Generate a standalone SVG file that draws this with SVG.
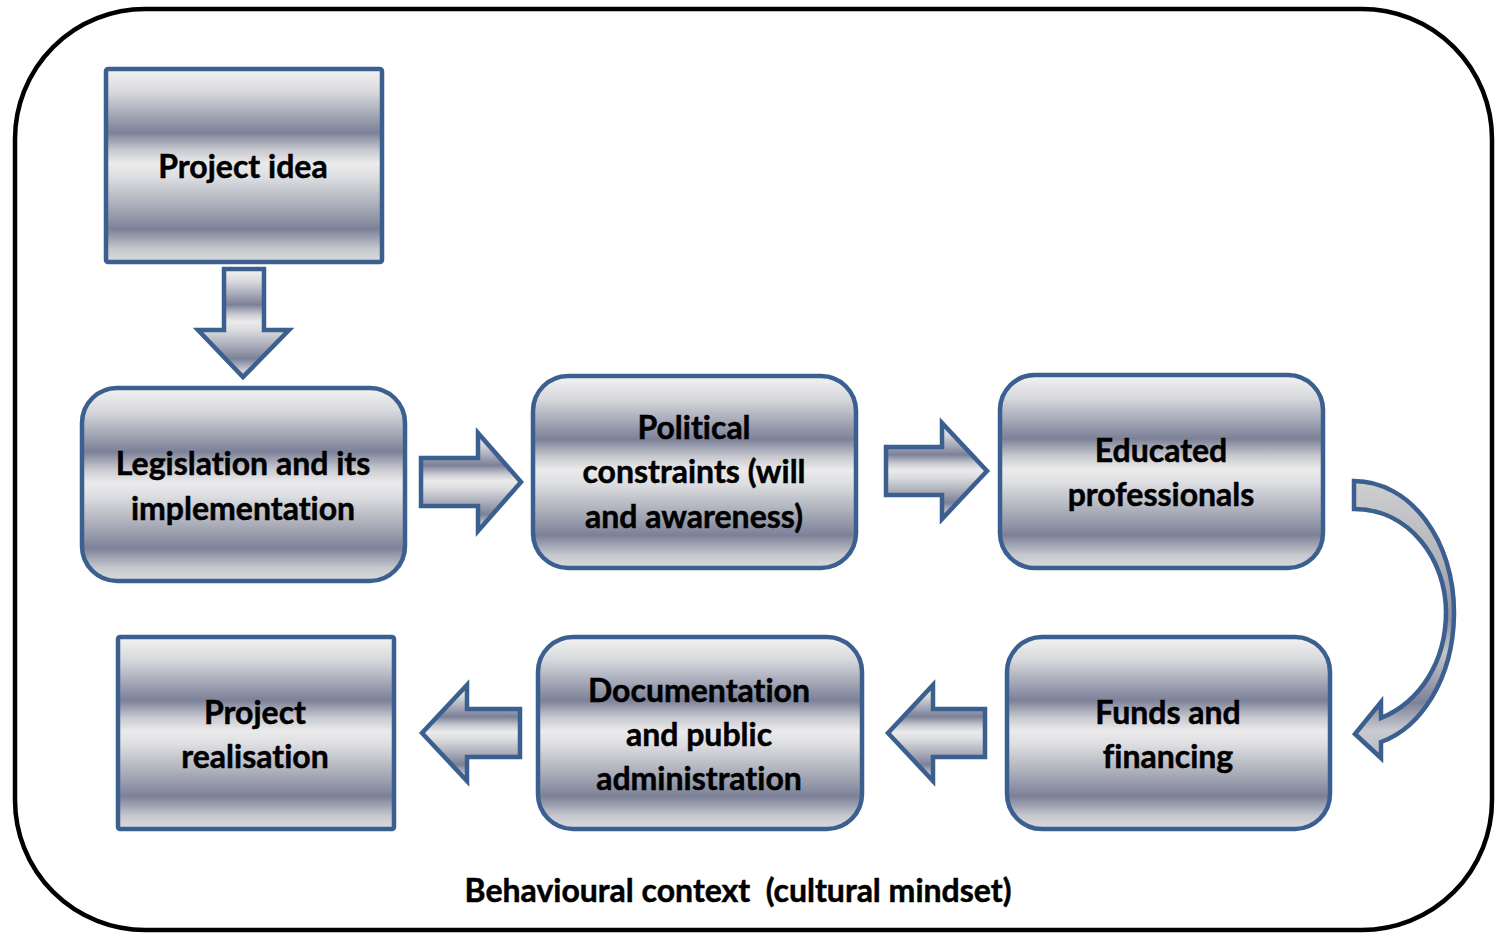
<svg xmlns="http://www.w3.org/2000/svg" width="1495" height="935" viewBox="0 0 1495 935">
  <style>
    .box { fill: url(#metal); stroke: #3b5f8e; stroke-width: 4.5; }
    .arrow { fill: url(#metal); stroke: #3b5f8e; stroke-width: 4.5; stroke-linejoin: miter; }
    .curved { fill: url(#metalCurve); stroke: #3b5f8e; stroke-width: 4.5; stroke-linejoin: miter; }
    .label { font-family: Lato, "Liberation Sans", sans-serif; font-weight: 700; font-size: 32px; fill: #000; stroke: #000; stroke-width: 0.5; text-anchor: middle; font-variant-ligatures: none; }
    .caption { font-family: Lato, "Liberation Sans", sans-serif; font-weight: 700; font-size: 32px; fill: #000; stroke: #000; stroke-width: 0.5; text-anchor: middle; white-space: pre; font-variant-ligatures: none; }
  </style>
  <defs>
    <!-- banded metallic fill shared by boxes and block arrows -->
    <linearGradient id="metal" x1="0" y1="0" x2="0" y2="1">
      <stop offset="0" stop-color="#f3f3f3"/>
      <stop offset="0.12" stop-color="#d7d8dc"/>
      <stop offset="0.33" stop-color="#7c8198"/>
      <stop offset="0.42" stop-color="#c8c9cf"/>
      <stop offset="0.49" stop-color="#ebebec"/>
      <stop offset="0.56" stop-color="#dddee1"/>
      <stop offset="0.70" stop-color="#adb0bb"/>
      <stop offset="0.83" stop-color="#7c8198"/>
      <stop offset="0.93" stop-color="#c5c7cd"/>
      <stop offset="1" stop-color="#dadbde"/>
    </linearGradient>
    <linearGradient id="metalCurve" x1="0" y1="0" x2="0" y2="1">
      <stop offset="0" stop-color="#cfcfd1"/>
      <stop offset="0.3" stop-color="#b2b4ba"/>
      <stop offset="0.5" stop-color="#8e92a2"/>
      <stop offset="0.62" stop-color="#c3c5ca"/>
      <stop offset="0.8" stop-color="#7d8299"/>
      <stop offset="0.9" stop-color="#c9cbd1"/>
      <stop offset="1" stop-color="#b9bbc3"/>
    </linearGradient>
  </defs>

  <!-- outer frame -->
  <rect x="15" y="9" width="1477" height="921" rx="130" ry="130" fill="#fff" stroke="#000" stroke-width="4.5"/>

  <!-- connectors (block arrows) -->
  <g id="connectors">
    <polygon class="arrow" points="224,269 264,269 264,330 289,330 243,377 198,330 224,330"/>
    <polygon class="arrow" points="421,458 478,458 478,433 521,482 478,531 478,506 421,506"/>
    <polygon class="arrow" points="886,447 942,447 942,423 987,471 942,519 942,495 886,495"/>
    <path class="curved" d="M1354,481 C1410,481 1455,540 1454,615 C1453,680 1420,728 1381,742 L1381,758 L1355,734 L1381,702 L1381,718 C1420,702 1446,662 1446,612 C1446,560 1410,509 1354,509 Z"/>
    <polygon class="arrow" points="985,709 933,709 933,685 888,733 933,781 933,757 985,757"/>
    <polygon class="arrow" points="520,709 467,709 467,685 422,733 467,781 467,757 520,757"/>
  </g>

  <g id="node-project-idea">
    <rect class="box" x="106" y="69" width="276" height="193" rx="2"/>
    <text class="label" x="243" y="178">Project idea</text>
  </g>

  <g id="node-legislation">
    <rect class="box" x="82" y="388" width="323" height="193" rx="35"/>
    <text class="label" x="243" y="475">Legislation and its</text>
    <text class="label" x="243" y="520">implementation</text>
  </g>

  <g id="node-political">
    <rect class="box" x="533" y="376" width="323" height="192" rx="35"/>
    <text class="label" x="694" y="439">Political</text>
    <text class="label" x="694" y="483">constraints (will</text>
    <text class="label" x="694" y="528">and awareness)</text>
  </g>

  <g id="node-educated">
    <rect class="box" x="1000" y="375" width="323" height="193" rx="35"/>
    <text class="label" x="1161" y="462">Educated</text>
    <text class="label" x="1161" y="506">professionals</text>
  </g>

  <g id="node-funds">
    <rect class="box" x="1007" y="637" width="323" height="192" rx="35"/>
    <text class="label" x="1168" y="724">Funds and</text>
    <text class="label" x="1168" y="768">financing</text>
  </g>

  <g id="node-documentation">
    <rect class="box" x="538" y="637" width="324" height="192" rx="35"/>
    <text class="label" x="699" y="702">Documentation</text>
    <text class="label" x="699" y="746">and public</text>
    <text class="label" x="699" y="790">administration</text>
  </g>

  <g id="node-realisation">
    <rect class="box" x="118" y="637" width="276" height="192" rx="2"/>
    <text class="label" x="255" y="724">Project</text>
    <text class="label" x="255" y="768">realisation</text>
  </g>

  <text class="caption" x="738" y="902">Behavioural context  (cultural mindset)</text>
</svg>
